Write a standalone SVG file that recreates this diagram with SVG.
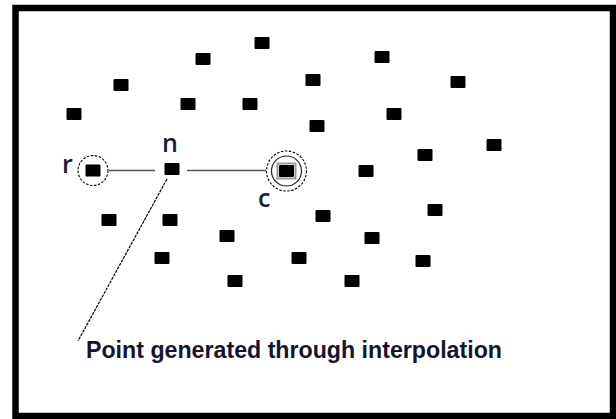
<svg xmlns="http://www.w3.org/2000/svg" width="616" height="419" viewBox="0 0 616 419">
  <style>
    .pt { fill: #000; }
    .lbl { font-family: "Open Sans", "Noto Sans", "DejaVu Sans", sans-serif; font-size: 25px; font-weight: 600; fill: #1c1c3a; }
    .cap { font-family: "Liberation Sans", Arial, sans-serif; font-weight: bold; font-size: 23px; fill: #14142e; }
    .link { stroke: #555; stroke-width: 1.6; fill: none; }
    .lead { stroke: #000; stroke-width: 1.2; stroke-dasharray: 3 1; fill: none; }
    .ring { stroke: #000; stroke-width: 1.1; stroke-dasharray: 2.5 1.5; fill: none; }
  </style>
  <defs>
    <rect id="sq" x="-7.5" y="-6" width="15" height="12" rx="1"/>
  </defs>

  <!-- frame -->
  <rect x="0" y="0" width="616" height="419" fill="#fff"/>
  <rect x="15.5" y="8" width="597.5" height="408" fill="#fff" stroke="#000" stroke-width="6.5"/>

  <!-- scattered sample points -->
  <g id="points" class="pt">
    <use href="#sq" x="262" y="43"/>
    <use href="#sq" x="203" y="59"/>
    <use href="#sq" x="382" y="57"/>
    <use href="#sq" x="121" y="85"/>
    <use href="#sq" x="313" y="80"/>
    <use href="#sq" x="458" y="82"/>
    <use href="#sq" x="74" y="114"/>
    <use href="#sq" x="188" y="104"/>
    <use href="#sq" x="250" y="104"/>
    <use href="#sq" x="394" y="114"/>
    <use href="#sq" x="317" y="126"/>
    <use href="#sq" x="494" y="145"/>
    <use href="#sq" x="425" y="155"/>
    <use href="#sq" x="366" y="171"/>
    <use href="#sq" x="109" y="220"/>
    <use href="#sq" x="170" y="220"/>
    <use href="#sq" x="323" y="216"/>
    <use href="#sq" x="435" y="210"/>
    <use href="#sq" x="227" y="236"/>
    <use href="#sq" x="372" y="238"/>
    <use href="#sq" x="162" y="258"/>
    <use href="#sq" x="299" y="258"/>
    <use href="#sq" x="423" y="261"/>
    <use href="#sq" x="235" y="281"/>
    <use href="#sq" x="352" y="281"/>
  </g>

  <!-- connectors -->
  <g id="connectors">
    <line class="link" x1="109" y1="170.5" x2="155" y2="170.5"/>
    <line class="link" x1="187" y1="170.5" x2="266" y2="170.5"/>
    <line class="lead" x1="167" y1="179" x2="78" y2="341"/>
  </g>

  <!-- point r -->
  <g id="node-r">
    <circle class="ring" cx="93" cy="170.5" r="15"/>
    <use href="#sq" x="93" y="170.5" class="pt"/>
    <text class="lbl" x="62" y="173">r</text>
  </g>

  <!-- interpolated point n -->
  <g id="node-n">
    <use href="#sq" x="172" y="169" class="pt"/>
    <text class="lbl" x="162" y="152">n</text>
  </g>

  <!-- point c -->
  <g id="node-c">
    <circle class="ring" cx="286.5" cy="171" r="20"/>
    <circle cx="286.5" cy="171" r="15" fill="none" stroke="#222" stroke-width="1.2"/>
    <rect x="277.5" y="163.5" width="18" height="15" fill="#fff" stroke="#999" stroke-width="2"/>
    <use href="#sq" x="286.5" y="171" class="pt"/>
    <text class="lbl" x="258" y="207">c</text>
  </g>

  <!-- caption -->
  <g id="caption">
    <text class="cap" x="86" y="358" textLength="416" lengthAdjust="spacingAndGlyphs">Point generated through interpolation</text>
  </g>
</svg>
